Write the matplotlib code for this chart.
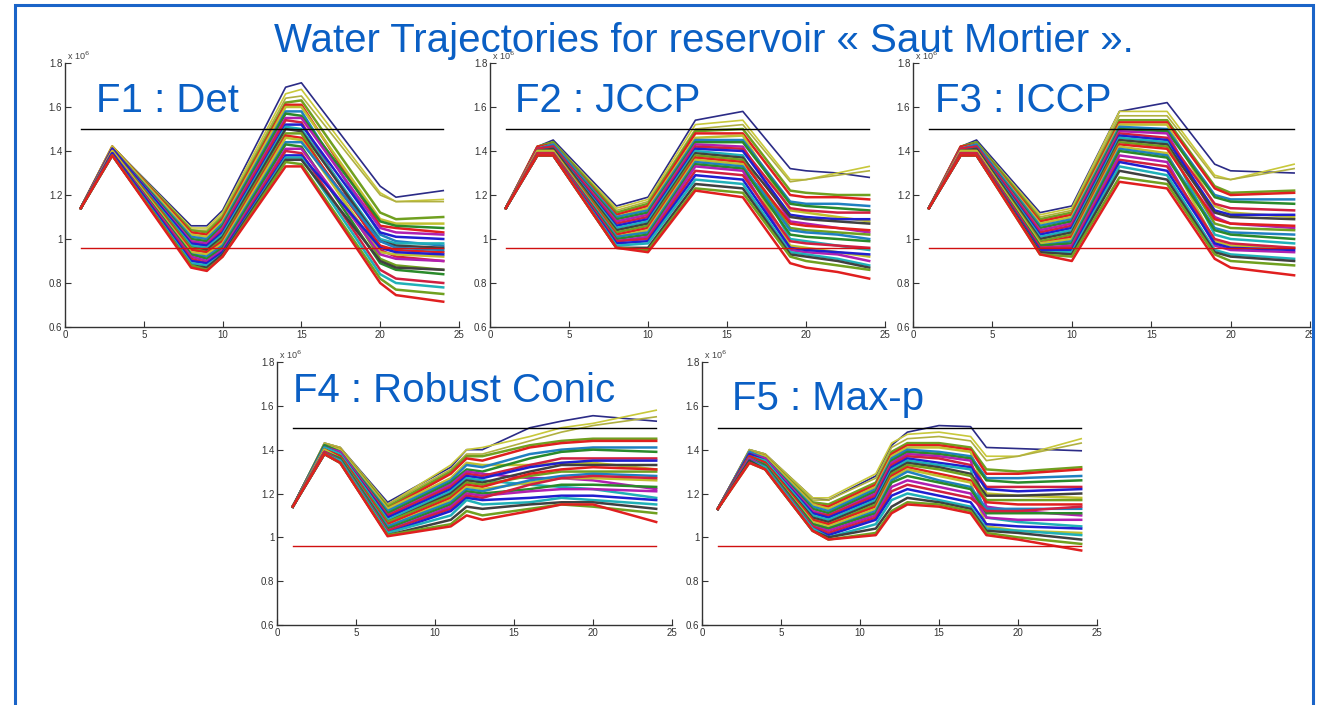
import matplotlib
matplotlib.use("Agg")
import matplotlib.pyplot as plt
from matplotlib.patches import Rectangle

plt.rcParams['font.family'] = ['Liberation Sans', 'DejaVu Sans']

title = "Water Trajectories for reservoir « Saut Mortier »."
labels = ["F1 : Det", "F2 : JCCP", "F3 : ICCP", "F4 : Robust Conic", "F5 : Max-p"]

upper_bound = 1.5
lower_bound = 0.96
bound_x = [1, 24]

# stages (x) where the trajectories bend, one list per panel
f1_x = [1, 3, 8, 9, 10, 14, 15, 20, 21, 24]
f1_y = [
    [1.14, 1.42, 1.06, 1.06, 1.13, 1.69, 1.71, 1.24, 1.19, 1.22],
    [1.14, 1.42, 1.05, 1.05, 1.12, 1.66, 1.68, 1.21, 1.17, 1.18],
    [1.14, 1.42, 1.04, 1.04, 1.11, 1.64, 1.65, 1.20, 1.17, 1.17],
    [1.14, 1.42, 1.04, 1.03, 1.10, 1.62, 1.63, 1.12, 1.09, 1.10],
    [1.14, 1.42, 1.03, 1.02, 1.09, 1.61, 1.61, 1.06, 1.05, 1.03],
    [1.14, 1.42, 1.02, 1.01, 1.08, 1.60, 1.60, 1.09, 1.07, 1.07],
    [1.14, 1.41, 1.01, 1.00, 1.07, 1.58, 1.58, 1.02, 0.99, 0.97],
    [1.14, 1.41, 1.00, 0.99, 1.06, 1.57, 1.56, 1.08, 1.06, 1.05],
    [1.14, 1.41, 0.99, 0.98, 1.05, 1.55, 1.55, 1.05, 1.03, 1.02],
    [1.14, 1.41, 0.98, 0.97, 1.04, 1.54, 1.53, 0.95, 0.92, 0.90],
    [1.14, 1.41, 0.98, 0.97, 1.03, 1.52, 1.52, 1.03, 1.01, 1.00],
    [1.14, 1.40, 0.97, 0.96, 1.02, 1.51, 1.50, 1.00, 0.98, 0.98],
    [1.14, 1.40, 0.96, 0.95, 1.01, 1.50, 1.49, 0.99, 0.97, 0.96],
    [1.14, 1.40, 0.96, 0.94, 1.00, 1.48, 1.48, 0.91, 0.88, 0.86],
    [1.14, 1.40, 0.95, 0.94, 0.99, 1.47, 1.46, 0.97, 0.95, 0.94],
    [1.14, 1.40, 0.94, 0.93, 0.98, 1.46, 1.45, 0.94, 0.93, 0.92],
    [1.14, 1.39, 0.93, 0.92, 0.97, 1.44, 1.44, 0.99, 0.96, 0.95],
    [1.14, 1.39, 0.93, 0.91, 0.96, 1.43, 1.42, 0.89, 0.86, 0.84],
    [1.14, 1.39, 0.92, 0.90, 0.95, 1.41, 1.41, 0.93, 0.91, 0.90],
    [1.14, 1.39, 0.91, 0.89, 0.94, 1.40, 1.39, 0.86, 0.82, 0.80],
    [1.14, 1.39, 0.90, 0.89, 0.94, 1.38, 1.38, 0.96, 0.94, 0.93],
    [1.14, 1.38, 0.89, 0.88, 0.93, 1.37, 1.37, 0.84, 0.80, 0.78],
    [1.14, 1.38, 0.88, 0.87, 0.93, 1.36, 1.36, 0.90, 0.87, 0.86],
    [1.14, 1.38, 0.88, 0.86, 0.92, 1.35, 1.34, 0.82, 0.77, 0.75],
    [1.14, 1.38, 0.87, 0.855, 0.92, 1.33, 1.33, 0.80, 0.745, 0.715],
]

f2_x = [1, 3, 4, 8, 10, 13, 16, 19, 20, 22, 24]
f2_y = [
    [1.14, 1.42, 1.45, 1.15, 1.19, 1.54, 1.58, 1.32, 1.31, 1.30, 1.28],
    [1.14, 1.42, 1.44, 1.14, 1.18, 1.52, 1.54, 1.27, 1.27, 1.30, 1.33],
    [1.14, 1.42, 1.44, 1.13, 1.17, 1.50, 1.52, 1.26, 1.27, 1.29, 1.31],
    [1.14, 1.42, 1.44, 1.12, 1.16, 1.49, 1.50, 1.22, 1.21, 1.20, 1.20],
    [1.14, 1.42, 1.43, 1.11, 1.15, 1.48, 1.48, 1.20, 1.19, 1.19, 1.18],
    [1.14, 1.41, 1.43, 1.10, 1.14, 1.46, 1.47, 1.13, 1.12, 1.10, 1.08],
    [1.14, 1.41, 1.43, 1.10, 1.13, 1.45, 1.45, 1.17, 1.16, 1.16, 1.15],
    [1.14, 1.41, 1.42, 1.09, 1.12, 1.44, 1.44, 1.16, 1.15, 1.14, 1.13],
    [1.14, 1.41, 1.42, 1.08, 1.11, 1.43, 1.42, 1.08, 1.07, 1.05, 1.03],
    [1.14, 1.41, 1.42, 1.07, 1.10, 1.42, 1.41, 1.14, 1.13, 1.12, 1.12],
    [1.14, 1.40, 1.41, 1.06, 1.09, 1.41, 1.40, 1.11, 1.10, 1.09, 1.09],
    [1.14, 1.40, 1.41, 1.05, 1.08, 1.40, 1.38, 1.00, 0.99, 0.97, 0.95],
    [1.14, 1.40, 1.41, 1.04, 1.07, 1.39, 1.37, 1.10, 1.09, 1.08, 1.07],
    [1.14, 1.40, 1.40, 1.03, 1.06, 1.38, 1.36, 1.05, 1.04, 1.03, 1.02],
    [1.14, 1.40, 1.40, 1.02, 1.05, 1.37, 1.35, 1.07, 1.06, 1.05, 1.04],
    [1.14, 1.40, 1.40, 1.01, 1.04, 1.36, 1.34, 0.97, 0.96, 0.94, 0.92],
    [1.14, 1.39, 1.39, 1.01, 1.03, 1.35, 1.33, 1.04, 1.03, 1.02, 1.00],
    [1.14, 1.39, 1.39, 1.00, 1.02, 1.34, 1.32, 1.02, 1.01, 1.00, 0.99],
    [1.14, 1.39, 1.39, 0.99, 1.01, 1.33, 1.31, 0.95, 0.94, 0.93, 0.90],
    [1.14, 1.39, 1.39, 0.99, 1.00, 1.31, 1.29, 0.99, 0.98, 0.97, 0.96],
    [1.14, 1.38, 1.38, 0.98, 0.99, 1.29, 1.27, 0.96, 0.95, 0.94, 0.93],
    [1.14, 1.38, 1.38, 0.97, 0.98, 1.27, 1.25, 0.94, 0.93, 0.91, 0.88],
    [1.14, 1.38, 1.38, 0.96, 0.96, 1.25, 1.23, 0.93, 0.92, 0.90, 0.87],
    [1.14, 1.38, 1.38, 0.96, 0.95, 1.23, 1.21, 0.92, 0.90, 0.88, 0.86],
    [1.14, 1.38, 1.38, 0.96, 0.94, 1.22, 1.19, 0.89, 0.87, 0.85, 0.82],
]

f3_x = [1, 3, 4, 8, 10, 13, 16, 19, 20, 24]
f3_y = [
    [1.14, 1.42, 1.45, 1.12, 1.15, 1.58, 1.62, 1.34, 1.31, 1.30],
    [1.14, 1.42, 1.44, 1.11, 1.14, 1.58, 1.58, 1.29, 1.27, 1.34],
    [1.14, 1.42, 1.44, 1.10, 1.13, 1.56, 1.56, 1.28, 1.27, 1.32],
    [1.14, 1.42, 1.44, 1.09, 1.12, 1.54, 1.54, 1.24, 1.21, 1.22],
    [1.14, 1.42, 1.43, 1.08, 1.11, 1.53, 1.53, 1.23, 1.20, 1.21],
    [1.14, 1.41, 1.43, 1.07, 1.10, 1.52, 1.52, 1.15, 1.12, 1.10],
    [1.14, 1.41, 1.43, 1.06, 1.09, 1.51, 1.50, 1.20, 1.18, 1.18],
    [1.14, 1.41, 1.42, 1.05, 1.08, 1.50, 1.49, 1.19, 1.17, 1.16],
    [1.14, 1.41, 1.42, 1.04, 1.07, 1.49, 1.48, 1.10, 1.07, 1.05],
    [1.14, 1.41, 1.42, 1.03, 1.06, 1.48, 1.46, 1.16, 1.14, 1.13],
    [1.14, 1.40, 1.41, 1.02, 1.05, 1.47, 1.45, 1.13, 1.11, 1.11],
    [1.14, 1.40, 1.41, 1.01, 1.04, 1.46, 1.44, 1.02, 1.00, 0.98],
    [1.14, 1.40, 1.41, 1.00, 1.03, 1.45, 1.43, 1.12, 1.10, 1.09],
    [1.14, 1.40, 1.40, 0.99, 1.02, 1.44, 1.42, 1.07, 1.05, 1.04],
    [1.14, 1.40, 1.40, 0.98, 1.01, 1.43, 1.41, 1.09, 1.07, 1.06],
    [1.14, 1.40, 1.40, 0.98, 1.00, 1.42, 1.39, 0.99, 0.97, 0.96],
    [1.14, 1.39, 1.39, 0.97, 0.99, 1.41, 1.38, 1.05, 1.03, 1.02],
    [1.14, 1.39, 1.39, 0.97, 0.98, 1.40, 1.37, 1.04, 1.02, 1.00],
    [1.14, 1.39, 1.39, 0.96, 0.97, 1.38, 1.35, 0.97, 0.95, 0.94],
    [1.14, 1.39, 1.39, 0.96, 0.96, 1.36, 1.33, 1.00, 0.98, 0.96],
    [1.14, 1.38, 1.38, 0.95, 0.95, 1.35, 1.31, 0.98, 0.96, 0.95],
    [1.14, 1.38, 1.38, 0.94, 0.94, 1.33, 1.29, 0.95, 0.93, 0.91],
    [1.14, 1.38, 1.38, 0.94, 0.93, 1.31, 1.27, 0.94, 0.92, 0.90],
    [1.14, 1.38, 1.38, 0.93, 0.92, 1.28, 1.25, 0.93, 0.90, 0.88],
    [1.14, 1.38, 1.38, 0.93, 0.90, 1.26, 1.23, 0.91, 0.87, 0.835],
]

f4_x = [1, 3, 4, 7, 11, 12, 13, 16, 18, 20, 24]
f4_y = [
    [1.14, 1.43, 1.41, 1.16, 1.32, 1.40, 1.40, 1.50, 1.53, 1.555, 1.53],
    [1.14, 1.43, 1.41, 1.15, 1.33, 1.40, 1.41, 1.46, 1.50, 1.52, 1.58],
    [1.14, 1.43, 1.41, 1.15, 1.31, 1.38, 1.38, 1.44, 1.48, 1.51, 1.55],
    [1.14, 1.42, 1.40, 1.14, 1.30, 1.37, 1.37, 1.42, 1.44, 1.45, 1.45],
    [1.14, 1.42, 1.40, 1.13, 1.29, 1.36, 1.35, 1.41, 1.43, 1.44, 1.44],
    [1.14, 1.42, 1.40, 1.13, 1.27, 1.34, 1.33, 1.33, 1.34, 1.34, 1.31],
    [1.14, 1.42, 1.39, 1.12, 1.26, 1.33, 1.32, 1.38, 1.40, 1.41, 1.41],
    [1.14, 1.42, 1.39, 1.11, 1.25, 1.31, 1.30, 1.36, 1.39, 1.40, 1.39],
    [1.14, 1.41, 1.39, 1.10, 1.24, 1.30, 1.29, 1.27, 1.27, 1.26, 1.22],
    [1.14, 1.41, 1.38, 1.10, 1.23, 1.29, 1.28, 1.33, 1.36, 1.36, 1.36],
    [1.14, 1.41, 1.38, 1.09, 1.22, 1.28, 1.27, 1.32, 1.34, 1.35, 1.35],
    [1.14, 1.41, 1.38, 1.08, 1.21, 1.27, 1.26, 1.24, 1.23, 1.22, 1.18],
    [1.14, 1.40, 1.37, 1.07, 1.20, 1.26, 1.25, 1.30, 1.33, 1.33, 1.33],
    [1.14, 1.40, 1.37, 1.07, 1.19, 1.25, 1.24, 1.28, 1.30, 1.30, 1.30],
    [1.14, 1.40, 1.37, 1.06, 1.18, 1.24, 1.23, 1.29, 1.31, 1.32, 1.31],
    [1.14, 1.40, 1.36, 1.05, 1.17, 1.23, 1.22, 1.25, 1.27, 1.27, 1.26],
    [1.14, 1.39, 1.36, 1.05, 1.16, 1.22, 1.21, 1.26, 1.28, 1.29, 1.28],
    [1.14, 1.39, 1.36, 1.04, 1.15, 1.21, 1.20, 1.22, 1.24, 1.24, 1.23],
    [1.14, 1.39, 1.35, 1.03, 1.14, 1.20, 1.19, 1.21, 1.22, 1.22, 1.21],
    [1.14, 1.39, 1.35, 1.03, 1.13, 1.19, 1.18, 1.24, 1.27, 1.28, 1.27],
    [1.14, 1.38, 1.35, 1.02, 1.12, 1.18, 1.17, 1.18, 1.19, 1.19, 1.17],
    [1.14, 1.38, 1.35, 1.02, 1.10, 1.17, 1.15, 1.16, 1.18, 1.17, 1.15],
    [1.14, 1.38, 1.34, 1.01, 1.08, 1.14, 1.13, 1.15, 1.16, 1.16, 1.13],
    [1.14, 1.38, 1.34, 1.01, 1.06, 1.12, 1.10, 1.13, 1.15, 1.14, 1.11],
    [1.14, 1.38, 1.34, 1.005, 1.05, 1.10, 1.08, 1.12, 1.15, 1.15, 1.07],
]

f5_x = [1, 3, 4, 7, 8, 11, 12, 13, 15, 17, 18, 20, 24]
f5_y = [
    [1.13, 1.40, 1.38, 1.18, 1.17, 1.28, 1.42, 1.48, 1.51, 1.505, 1.41, 1.405, 1.395],
    [1.13, 1.40, 1.38, 1.18, 1.18, 1.29, 1.43, 1.47, 1.48, 1.46, 1.37, 1.37, 1.45],
    [1.13, 1.40, 1.38, 1.17, 1.17, 1.27, 1.41, 1.45, 1.46, 1.44, 1.35, 1.37, 1.43],
    [1.13, 1.39, 1.37, 1.16, 1.15, 1.25, 1.39, 1.43, 1.43, 1.41, 1.31, 1.30, 1.32],
    [1.13, 1.39, 1.37, 1.15, 1.14, 1.24, 1.38, 1.42, 1.42, 1.40, 1.29, 1.29, 1.31],
    [1.13, 1.39, 1.37, 1.15, 1.13, 1.23, 1.37, 1.41, 1.41, 1.39, 1.20, 1.19, 1.18],
    [1.13, 1.39, 1.36, 1.14, 1.12, 1.22, 1.36, 1.40, 1.39, 1.37, 1.27, 1.27, 1.28],
    [1.13, 1.38, 1.36, 1.13, 1.11, 1.21, 1.35, 1.39, 1.38, 1.36, 1.26, 1.25, 1.26],
    [1.13, 1.38, 1.36, 1.12, 1.10, 1.20, 1.34, 1.38, 1.37, 1.35, 1.14, 1.12, 1.10],
    [1.13, 1.38, 1.35, 1.11, 1.10, 1.19, 1.33, 1.37, 1.36, 1.33, 1.23, 1.23, 1.23],
    [1.13, 1.38, 1.35, 1.11, 1.09, 1.18, 1.32, 1.36, 1.34, 1.32, 1.22, 1.21, 1.22],
    [1.13, 1.37, 1.35, 1.10, 1.08, 1.17, 1.31, 1.35, 1.33, 1.31, 1.09, 1.07, 1.05],
    [1.13, 1.37, 1.34, 1.09, 1.07, 1.16, 1.30, 1.34, 1.32, 1.29, 1.19, 1.19, 1.20],
    [1.13, 1.37, 1.34, 1.08, 1.06, 1.15, 1.29, 1.33, 1.31, 1.28, 1.17, 1.17, 1.17],
    [1.13, 1.37, 1.34, 1.08, 1.06, 1.14, 1.28, 1.32, 1.29, 1.26, 1.16, 1.15, 1.15],
    [1.13, 1.36, 1.33, 1.07, 1.05, 1.13, 1.27, 1.31, 1.28, 1.25, 1.05, 1.03, 1.02],
    [1.13, 1.36, 1.33, 1.06, 1.04, 1.12, 1.26, 1.30, 1.26, 1.23, 1.13, 1.13, 1.13],
    [1.13, 1.36, 1.33, 1.06, 1.04, 1.11, 1.25, 1.28, 1.25, 1.22, 1.11, 1.11, 1.11],
    [1.13, 1.36, 1.32, 1.05, 1.03, 1.10, 1.23, 1.26, 1.23, 1.20, 1.09, 1.08, 1.08],
    [1.13, 1.35, 1.32, 1.05, 1.02, 1.09, 1.21, 1.24, 1.21, 1.18, 1.12, 1.12, 1.14],
    [1.13, 1.35, 1.32, 1.04, 1.01, 1.08, 1.19, 1.22, 1.19, 1.16, 1.06, 1.05, 1.04],
    [1.13, 1.35, 1.32, 1.04, 1.00, 1.06, 1.17, 1.20, 1.17, 1.14, 1.04, 1.03, 1.01],
    [1.13, 1.35, 1.31, 1.03, 1.00, 1.04, 1.14, 1.18, 1.16, 1.13, 1.03, 1.02, 0.99],
    [1.13, 1.34, 1.31, 1.03, 0.99, 1.02, 1.12, 1.16, 1.15, 1.12, 1.02, 1.00, 0.97],
    [1.13, 1.34, 1.31, 1.03, 0.99, 1.01, 1.11, 1.15, 1.14, 1.11, 1.01, 0.99, 0.94],
]

panels = [(f1_x, f1_y), (f2_x, f2_y), (f3_x, f3_y), (f4_x, f4_y), (f5_x, f5_y)]

# pixel boxes (left, right, top, bottom) of each axes in the 1319x705 slide
W, H = 1319, 705
boxes = [(65, 459, 63, 327), (490, 885, 63, 327), (913, 1310, 63, 327),
         (277, 672, 362, 625), (702, 1097, 362, 625)]
label_pos = [(96, 112), (515, 112), (935, 112), (293, 402), (732, 410)]

blue = '#0a5fc4'
outlier_colors = ['#2b2b86', '#c8c83a', '#b0b040']
cycle = ['#1f1fd0', '#2a8a2a', '#e01f1f', '#20b0b8', '#b020b0', '#c0c030',
         '#404040', '#d02040', '#2080c0', '#70a020']

fig = plt.figure(figsize=(W / 100, H / 100), dpi=100)
fig.patches.append(Rectangle((15 / W, -0.01), 1298 / W, 1.0 - 5 / H + 0.01,
                             transform=fig.transFigure, fill=False,
                             edgecolor='#1a64c8', linewidth=2.2))

for (xs, ys), (l, r, t, b), lab, (lx, ly) in zip(panels, boxes, labels, label_pos):
    ax = fig.add_axes([l / W, 1 - b / H, (r - l) / W, (b - t) / H])
    for i, row in enumerate(ys):
        if i < 3:
            ax.plot(xs, row, color=outlier_colors[i], linewidth=1.2, zorder=2)
        else:
            ax.plot(xs, row, color=cycle[(i * 3) % len(cycle)], linewidth=1.8,
                    zorder=2)
    ax.plot(bound_x, [upper_bound] * 2, color='black', linewidth=1.0, zorder=3)
    ax.plot(bound_x, [lower_bound] * 2, color='#d01010', linewidth=1.0, zorder=3)
    ax.set_xlim(0, 25)
    ax.set_ylim(0.6, 1.8)
    ax.set_xticks([0, 5, 10, 15, 20, 25])
    ax.set_yticks([0.6, 0.8, 1.0, 1.2, 1.4, 1.6, 1.8])
    ax.set_yticklabels(['0.6', '0.8', '1', '1.2', '1.4', '1.6', '1.8'])
    for s in ['top', 'right']:
        ax.spines[s].set_visible(False)
    for s in ['left', 'bottom']:
        ax.spines[s].set_color('#333333')
        ax.spines[s].set_linewidth(1.0)
    ax.tick_params(direction='in', length=4, width=0.8, colors='#333333',
                   labelsize=7, pad=2)
    ax.patch.set_alpha(0)
    ax.text(0.005, 1.005, r'x 10$^6$', transform=ax.transAxes, fontsize=6.5,
            color='#444444', ha='left', va='bottom')
    fig.text(lx / W, 1 - ly / H, lab, fontsize=29, color=blue, va='baseline')

fig.text(704 / W, 1 - 52 / H, title, fontsize=29, color=blue,
         ha='center', va='baseline')

fig.savefig('out.png', dpi=100)
